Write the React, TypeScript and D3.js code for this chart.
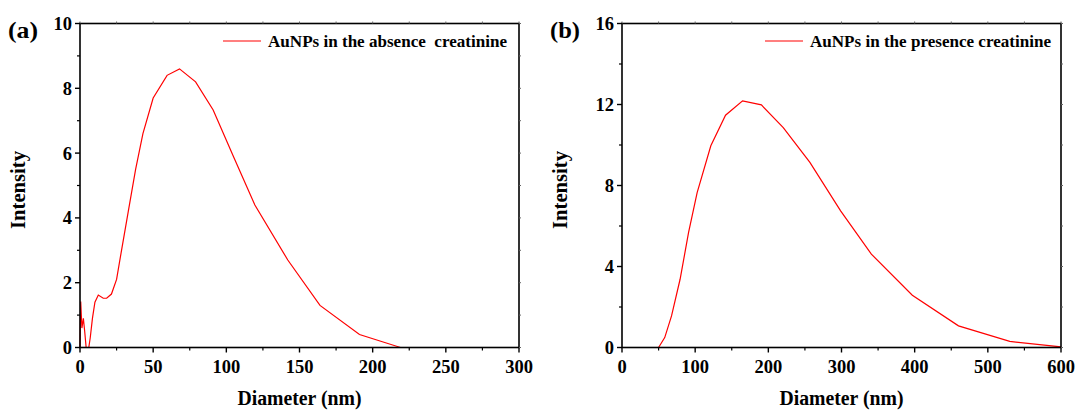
import React from 'react'
import * as d3 from 'd3'

// panel (a): AuNPs without creatinine
const diamA = [0, 0.5, 0.9, 1.3, 2.3, 3.2, 4.2, 6.0, 7.0, 8.5, 10.2, 12.5, 15.9, 18.2, 21.5, 25, 28, 33, 38, 43, 50, 59.5, 68, 79, 91, 105, 119.5, 142, 164, 191, 219, 250, 300]
const intA = [0, 1.42, 1.0, 0.6, 0.9, 0.5, 0, 0, 0.3, 0.9, 1.4, 1.62, 1.52, 1.52, 1.65, 2.1, 2.9, 4.2, 5.5, 6.6, 7.7, 8.4, 8.6, 8.2, 7.33, 5.88, 4.4, 2.7, 1.3, 0.4, 0, 0, 0]

// panel (b): AuNPs with creatinine
const diamB = [0, 25, 50, 58.4, 67.7, 79.4, 91, 102.7, 121.4, 141.5, 164.8, 190.5, 220.4, 256.8, 298.8, 340.8, 396.8, 459.9, 530, 600]
const intB = [0, 0, 0, 0.49, 1.56, 3.37, 5.68, 7.65, 9.96, 11.47, 12.18, 11.98, 10.86, 9.14, 6.75, 4.61, 2.58, 1.07, 0.3, 0.03]

const xTicksA = [0, 50, 100, 150, 200, 250, 300]
const yTicksA = [0, 2, 4, 6, 8, 10]
const xTicksB = [0, 100, 200, 300, 400, 500, 600]
const yTicksB = [0, 4, 8, 12, 16]

const font = '"Liberation Serif", "Times New Roman", serif'

type PanelProps = {
  left: number
  tag: string
  legend: string
  legendLen: number
  xs: number[]
  ys: number[]
  xMax: number
  yMax: number
  xTicks: number[]
  yTicks: number[]
}

const Panel = ({ left, tag, legend, legendLen, xs, ys, xMax, yMax, xTicks, yTicks }: PanelProps) => {
  const top = 23.5
  const bottom = 347.5
  const w = 439
  const x = d3.scaleLinear().domain([0, xMax]).range([left, left + w])
  const y = d3.scaleLinear().domain([0, yMax]).range([bottom, top])
  const xStep = xTicks[1] - xTicks[0]
  const yStep = yTicks[1] - yTicks[0]
  const xMinor = d3.range(xStep / 2, xMax, xStep)
  const yMinor = d3.range(yStep / 2, yMax, yStep)
  const line = d3
    .line<number>()
    .x((d, i) => x(xs[i]))
    .y((d) => y(d))
  return (
    <g fontFamily={font} fontWeight="bold" fill="#000">
      <path d={line(ys) || ''} fill="none" stroke="#ff0000" strokeWidth={1.2} />
      {/* frame */}
      <rect x={left} y={top} width={w} height={bottom - top} fill="none" stroke="#000" strokeWidth={1.6} />
      {/* bottom ticks */}
      {xTicks.map((t) => (
        <g key={'xt' + t}>
          <line x1={x(t)} x2={x(t)} y1={bottom} y2={bottom + 5} stroke="#000" strokeWidth={1.4} />
          <line x1={x(t)} x2={x(t)} y1={top} y2={top - 2} stroke="#666" strokeWidth={1} />
          <text x={x(t)} y={bottom + 25} textAnchor="middle" fontSize={18.5}>{t}</text>
        </g>
      ))}
      {xMinor.map((t) => (
        <g key={'xm' + t}>
          <line x1={x(t)} x2={x(t)} y1={bottom} y2={bottom + 3} stroke="#000" strokeWidth={1.2} />
          <line x1={x(t)} x2={x(t)} y1={top} y2={top - 2} stroke="#666" strokeWidth={1} />
        </g>
      ))}
      {/* left ticks */}
      {yTicks.map((t) => (
        <g key={'yt' + t}>
          <line x1={left} x2={left - 5} y1={y(t)} y2={y(t)} stroke="#000" strokeWidth={1.4} />
          <line x1={left + w} x2={left + w + 2} y1={y(t)} y2={y(t)} stroke="#666" strokeWidth={1} />
          <text x={left - 8} y={y(t) + 6.5} textAnchor="end" fontSize={18.5}>{t}</text>
        </g>
      ))}
      {yMinor.map((t) => (
        <g key={'ym' + t}>
          <line x1={left} x2={left - 3} y1={y(t)} y2={y(t)} stroke="#000" strokeWidth={1.2} />
          <line x1={left + w} x2={left + w + 2} y1={y(t)} y2={y(t)} stroke="#666" strokeWidth={1} />
        </g>
      ))}
      <text x={left + w / 2} y={405} textAnchor="middle" fontSize={20} textLength={124} lengthAdjust="spacingAndGlyphs">Diameter (nm)</text>
      <text transform={`translate(${left - 55},${190}) rotate(-90)`} textAnchor="middle" fontSize={20} textLength={78} lengthAdjust="spacingAndGlyphs">Intensity</text>
      <text x={left - 72} y={38} fontSize={24} textLength={30} lengthAdjust="spacingAndGlyphs">{tag}</text>
      <line x1={left + 143} x2={left + 181} y1={41} y2={41} stroke="#ff0000" strokeWidth={1.2} />
      <text x={left + 188} y={47} fontSize={17} textLength={legendLen} lengthAdjust="spacingAndGlyphs" style={{ whiteSpace: 'pre' }}>{legend}</text>
    </g>
  )
}

const App = () => {
  return (
    <svg width={1076} height={410} style={{ position: 'absolute', left: 0, top: 0, background: '#fff' }}>
      <Panel left={80} tag="(a)" legend="AuNPs in the absence  creatinine" legendLen={239} xs={diamA} ys={intA} xMax={300} yMax={10} xTicks={xTicksA} yTicks={yTicksA} />
      <Panel left={622} tag="(b)" legend="AuNPs in the presence creatinine" legendLen={241} xs={diamB} ys={intB} xMax={600} yMax={16} xTicks={xTicksB} yTicks={yTicksB} />
    </svg>
  )
}

export default App
